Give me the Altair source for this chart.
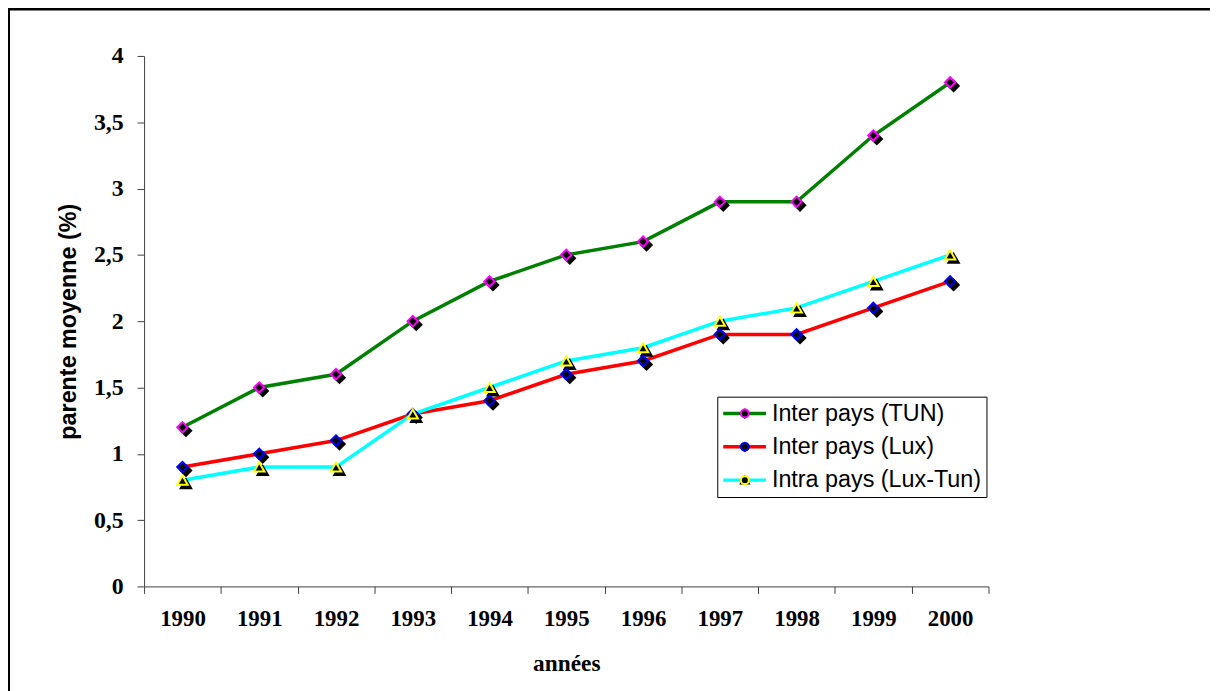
import altair as alt
import pandas as pd

years = [1990, 1991, 1992, 1993, 1994, 1995, 1996, 1997, 1998, 1999, 2000]
tun = [1.2, 1.5, 1.6, 2.0, 2.3, 2.5, 2.6, 2.9, 2.9, 3.4, 3.8]
lux = [0.9, 1.0, 1.1, 1.3, 1.4, 1.6, 1.7, 1.9, 1.9, 2.1, 2.3]
luxtun = [0.8, 0.9, 0.9, 1.3, 1.5, 1.7, 1.8, 2.0, 2.1, 2.3, 2.5]
series_names = ["Inter pays (TUN)", "Inter pays (Lux)", "Intra pays (Lux-Tun)"]
line_colors = ["#008000", "#FF0000", "#00FFFF"]
marker_colors = ["#FF00FF", "#0000FF", "#FFFF00"]
marker_shapes = ["diamond", "diamond", "triangle-up"]
y_ticks = [0, 0.5, 1, 1.5, 2, 2.5, 3, 3.5, 4]

rows = []
for name, vals in zip(series_names, [tun, lux, luxtun]):
    for yr, v in zip(years, vals):
        rows.append({"year": yr, "value": v, "series": name, "serie": name})
df = pd.DataFrame(rows)

W, H = 850, 534
PL, PT = 137, 46
band = W / len(years)
x_edges = [years[0] - 0.5 + i for i in range(len(years) + 1)]

x_enc = alt.X(
    "year:Q",
    scale=alt.Scale(domain=[years[0] - 0.5, years[-1] + 0.5], nice=False, zero=False),
    axis=alt.Axis(
        values=x_edges,
        labelExpr="datum.value > %d ? '' : format(datum.value + 0.5, 'd')" % years[-1],
        labelOffset=band / 2,
        labelOverlap=False,
        labelBound=False,
        labelFlush=False,
        grid=False,
        tickSize=7,
        labelPadding=14,
        labelFont="Liberation Serif",
        labelFontWeight="bold",
        labelFontSize=23,
        labelColor="black",
        title="années",
        titleFont="Liberation Serif",
        titleFontWeight="bold",
        titleFontSize=23.5,
        titleColor="black",
        titlePadding=22,
        domainColor="#404040",
        tickColor="#404040",
    ),
)
y_enc = alt.Y(
    "value:Q",
    scale=alt.Scale(domain=[0, 4], nice=False),
    axis=alt.Axis(
        values=y_ticks,
        labelExpr="replace(toString(datum.value), '.', ',')",
        grid=False,
        tickSize=7,
        labelPadding=14,
        labelFont="Liberation Serif",
        labelFontWeight="bold",
        labelFontSize=24,
        labelColor="black",
        title="parente moyenne (%)",
        titleFont="Liberation Sans",
        titleFontWeight="bold",
        titleFontSize=23.5,
        titleColor="black",
        titlePadding=13,
        domainColor="#404040",
        tickColor="#404040",
    ),
)

LX, LY = 722 - 145, 397 - 54
common_leg = dict(
    orient="none",
    legendX=LX,
    legendY=LY,
    title=None,
    padding=5,
    clipHeight=24,
    rowPadding=9.5,
    labelFont="Liberation Sans",
    labelFontSize=23.5,
    labelColor="black",
    labelOffset=4,
    labelLimit=500,
)

lines = alt.Chart(df).mark_line(strokeWidth=3.5).encode(
    x=x_enc,
    y=y_enc,
    color=alt.Color(
        "series:N",
        sort=series_names,
        scale=alt.Scale(range=line_colors),
        legend=alt.Legend(
            symbolType="stroke",
            symbolSize=1849,
            symbolStrokeWidth=3.5,
            symbolOffset=-1,
            strokeColor="black",
            fillColor="white",
            **common_leg,
        ),
    ),
)

marker_legend = alt.Legend(
    symbolSize=64,
    symbolStrokeWidth=2,
    symbolFillColor="black",
    symbolOffset=11,
    labelExpr="''",
    **common_leg,
)
shape_enc = alt.Shape(
    "serie:N",
    sort=series_names,
    scale=alt.Scale(range=marker_shapes),
    legend=marker_legend,
)

shadows = alt.Chart(df).mark_point(
    filled=True, fill="black", stroke="black", strokeWidth=2, size=110, opacity=1,
    xOffset=3.5, yOffset=3.5,
).encode(x="year:Q", y="value:Q", shape=shape_enc)

markers = alt.Chart(df).mark_point(
    filled=False, fill="black", strokeWidth=2, size=110, opacity=1, fillOpacity=1,
).encode(
    x="year:Q",
    y="value:Q",
    shape=shape_enc,
    stroke=alt.Stroke(
        "serie:N",
        sort=series_names,
        scale=alt.Scale(range=marker_colors),
        legend=marker_legend,
    ),
)

frame_df = pd.DataFrame({"k": [0]})
top_border = alt.Chart(frame_df).mark_rule(color="black", strokeWidth=2.5).encode(
    x=alt.value(-PL), x2=alt.value(1200), y=alt.value(-PT - 1)
)
left_border = alt.Chart(frame_df).mark_rule(color="black", strokeWidth=2).encode(
    x=alt.value(-PL + 1), y=alt.value(-PT - 2), y2=alt.value(800)
)

chart = alt.layer(top_border, left_border, lines, shadows, markers).properties(
    width=W,
    height=H,
    autosize=alt.AutoSizeParams(type="none"),
    padding={"left": PL, "top": PT, "right": 1210 - PL - W, "bottom": 683 - PT - H},
    background="white",
).configure_view(stroke=None)

chart.save("out.html", embed_options={"renderer": "svg", "actions": False})
